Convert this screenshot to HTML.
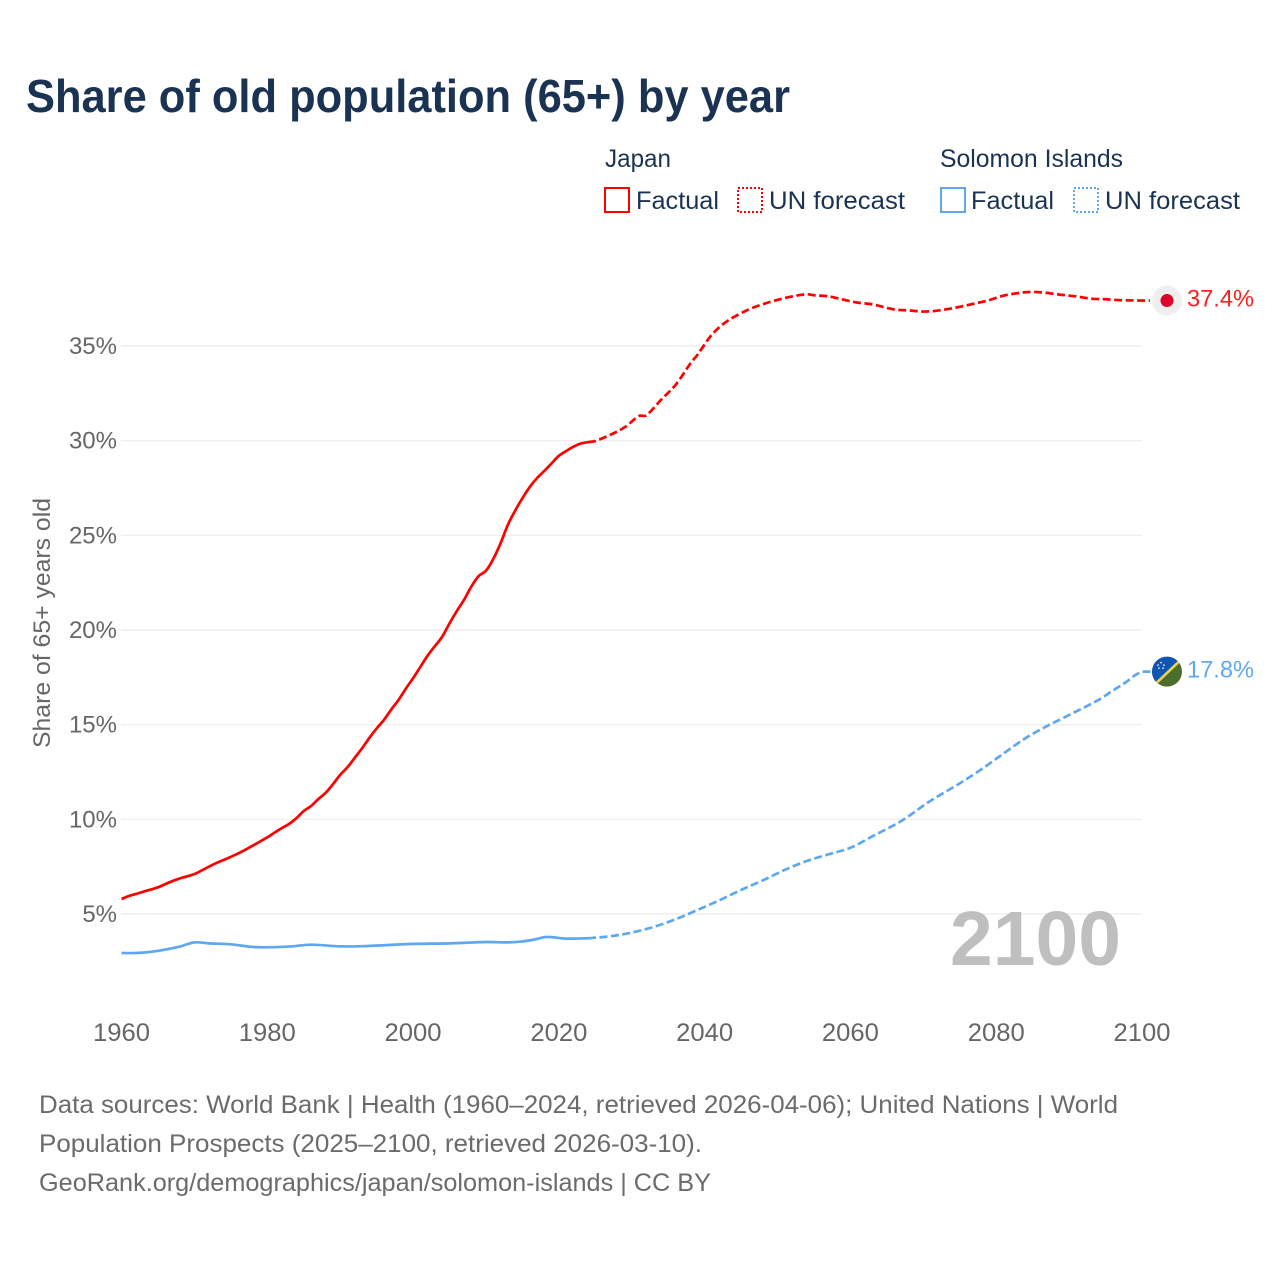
<!DOCTYPE html>
<html lang="en">
<head>
<meta charset="utf-8">
<title>Share of old population (65+) by year</title>
<style>
html,body{margin:0;padding:0;background:#fff;}
body{width:1280px;height:1280px;overflow:hidden;font-family:"Liberation Sans",sans-serif;}
svg{display:block;}
text{font-family:"Liberation Sans",sans-serif;}
</style>
</head>
<body>
<svg id="chart" width="1280" height="1280" viewBox="0 0 1280 1280" xmlns="http://www.w3.org/2000/svg">
  <defs>
    <clipPath id="flag-clip"><circle cx="0" cy="0" r="15"/></clipPath>
  </defs>
  <rect x="0" y="0" width="1280" height="1280" fill="#fff"/>
  <text x="26" y="112" font-size="46" font-weight="700" fill="#1a3353" textLength="764" lengthAdjust="spacingAndGlyphs">Share of old population (65+) by year</text>

  <g>
    <text x="605" y="167" font-size="25" fill="#1a3353" textLength="66" lengthAdjust="spacingAndGlyphs">Japan</text>
    <rect x="605" y="188" width="24" height="24" fill="none" stroke="#ff0000" stroke-width="2"/>
    <text x="636" y="209" font-size="25" fill="#1a3353" textLength="83" lengthAdjust="spacingAndGlyphs">Factual</text>
    <rect x="738" y="188" width="24" height="24" fill="none" stroke="#ff0000" stroke-width="2" stroke-dasharray="2 2"/>
    <text x="769" y="209" font-size="25" fill="#1a3353" textLength="136" lengthAdjust="spacingAndGlyphs">UN forecast</text>

    <text x="940" y="167" font-size="25" fill="#1a3353" textLength="183" lengthAdjust="spacingAndGlyphs">Solomon Islands</text>
    <rect x="941" y="188" width="24" height="24" fill="none" stroke="#5fa8ee" stroke-width="2"/>
    <text x="971" y="209" font-size="25" fill="#1a3353" textLength="83" lengthAdjust="spacingAndGlyphs">Factual</text>
    <rect x="1074" y="188" width="24" height="24" fill="none" stroke="#5fa8ee" stroke-width="2" stroke-dasharray="2 2"/>
    <text x="1105" y="209" font-size="25" fill="#1a3353" textLength="135" lengthAdjust="spacingAndGlyphs">UN forecast</text>
  </g>

  <g id="grid"></g>
  <g id="y-ticks"></g>
  <g id="x-ticks"></g>
  <text transform="translate(50,748) rotate(-90)" font-size="24" fill="#666" textLength="250" lengthAdjust="spacingAndGlyphs">Share of 65+ years old</text>
  <text x="950" y="965" font-size="77" font-weight="700" fill="#bfbfbf" textLength="171" lengthAdjust="spacingAndGlyphs">2100</text>
  <g id="series"></g>
  <g id="markers"></g>

  <g font-size="25" fill="#6b6b6b">
    <text x="39" y="1113" textLength="1079" lengthAdjust="spacingAndGlyphs">Data sources: World Bank | Health (1960–2024, retrieved 2026-04-06); United Nations | World</text>
    <text x="39" y="1152" textLength="663" lengthAdjust="spacingAndGlyphs">Population Prospects (2025–2100, retrieved 2026-03-10).</text>
    <text x="39" y="1191" textLength="672" lengthAdjust="spacingAndGlyphs">GeoRank.org/demographics/japan/solomon-islands | CC BY</text>
  </g>
</svg>
<script>
const yTicks = [5, 10, 15, 20, 25, 30, 35];
const xTicks = [1960, 1980, 2000, 2020, 2040, 2060, 2080, 2100];

const japanFactualYears = [1960,1961,1962,1963,1964,1965,1966,1967,1968,1969,1970,1971,1972,1973,1974,1975,1976,1977,1978,1979,1980,1981,1982,1983,1984,1985,1986,1987,1988,1989,1990,1991,1992,1993,1994,1995,1996,1997,1998,1999,2000,2001,2002,2003,2004,2005,2006,2007,2008,2009,2010,2011,2012,2013,2014,2015,2016,2017,2018,2019,2020,2021,2022,2023,2024];
const japanFactualValues = [5.79,5.95,6.06,6.18,6.29,6.41,6.58,6.74,6.88,6.99,7.11,7.30,7.50,7.69,7.85,8.02,8.20,8.40,8.61,8.83,9.05,9.30,9.54,9.76,10.06,10.44,10.70,11.07,11.40,11.85,12.35,12.75,13.25,13.75,14.30,14.80,15.25,15.80,16.30,16.90,17.45,18.05,18.65,19.15,19.65,20.35,21.00,21.60,22.30,22.85,23.13,23.75,24.58,25.55,26.30,26.96,27.55,28.02,28.40,28.80,29.20,29.45,29.68,29.85,29.92];

const japanForecastYears = [2024,2025,2027,2029,2031,2032,2034,2036,2038,2039,2041,2043,2046,2049,2052,2054,2055,2057,2059,2061,2063,2066,2068,2070,2072,2075,2077,2079,2081,2084,2086,2089,2091,2093,2095,2097,2100];
const japanForecastValues = [29.92,29.98,30.30,30.70,31.30,31.34,32.15,32.94,34.05,34.53,35.60,36.29,36.92,37.33,37.62,37.73,37.68,37.62,37.45,37.29,37.20,36.93,36.88,36.82,36.87,37.07,37.24,37.42,37.66,37.84,37.84,37.70,37.62,37.50,37.47,37.42,37.40];

const solomonFactualYears = [1960,1962,1964,1966,1968,1970,1972,1975,1978,1980,1983,1986,1990,1993,1997,2000,2005,2010,2013,2015,2017,2018,2019,2021,2024];
const solomonFactualValues = [2.94,2.94,3.00,3.12,3.28,3.50,3.45,3.40,3.26,3.24,3.28,3.38,3.29,3.30,3.37,3.42,3.45,3.52,3.50,3.55,3.68,3.78,3.78,3.70,3.72];

const solomonForecastYears = [2024,2027,2030,2033,2036,2039,2042,2045,2048,2051,2054,2057,2060,2063,2067,2071,2075,2078,2080,2084,2087,2090,2094,2096,2098,2099,2100];
const solomonForecastValues = [3.72,3.82,4.02,4.32,4.72,5.21,5.72,6.27,6.78,7.33,7.80,8.15,8.50,9.10,9.92,10.98,11.90,12.65,13.20,14.28,14.93,15.51,16.30,16.80,17.30,17.60,17.80];

const endValues = [37.4, 17.8];

const NS = 'http://www.w3.org/2000/svg';
function xScale(year) { return 121.5 + (year - 1960) * (1142 - 121.5) / 140; }
function yScale(v) { return 914 - (v - 5) * (914 - 346) / 30; }
function make(tag, attrs, parent) {
  const el = document.createElementNS(NS, tag);
  Object.keys(attrs).forEach(function (k) { el.setAttribute(k, attrs[k]); });
  parent.appendChild(el);
  return el;
}
const gridG = document.getElementById('grid');
const yG = document.getElementById('y-ticks');
const xG = document.getElementById('x-ticks');
const seriesG = document.getElementById('series');
const markersG = document.getElementById('markers');

yTicks.forEach(function (t) {
  const line = make('line', {x1: 121, x2: 1142, y1: yScale(t), y2: yScale(t), stroke: '#ececec', 'stroke-width': 1.2}, gridG);
  
  
  const label = make('text', {x: 117, y: yScale(t) + 8, 'text-anchor': 'end', 'font-size': 24, fill: '#666'}, yG);
  
  
  label.textContent = t + '%';
});

xTicks.forEach(function (t) {
  const label = make('text', {x: xScale(t), y: 1041, 'text-anchor': 'middle', 'font-size': 25, fill: '#666', textLength: 57, lengthAdjust: 'spacingAndGlyphs'}, xG);
  
  
  label.textContent = String(t);
});

// Smooth path through the data points (finite-difference Hermite curve).
function linePath(years, values, endX) {
  const xs = years.map(xScale);
  const ys = values.map(yScale);
  const n = xs.length;
  const slope = xs.map(function (x, i) {
    if (i === 0 || i === n - 1) { return 0; }
    return (ys[i + 1] - ys[i - 1]) / (xs[i + 1] - xs[i - 1]);
  });
  slope[0] = (ys[1] - ys[0]) / (xs[1] - xs[0]);
  slope[n - 1] = (ys[n - 1] - ys[n - 2]) / (xs[n - 1] - xs[n - 2]);
  let d = 'M' + xs[0].toFixed(2) + ' ' + ys[0].toFixed(2);
  for (let i = 1; i < n; i++) {
    const dx = (xs[i] - xs[i - 1]) / 3;
    d += ' C' + (xs[i - 1] + dx).toFixed(2) + ' ' + (ys[i - 1] + slope[i - 1] * dx).toFixed(2) +
         ' ' + (xs[i] - dx).toFixed(2) + ' ' + (ys[i] - slope[i] * dx).toFixed(2) +
         ' ' + xs[i].toFixed(2) + ' ' + ys[i].toFixed(2);
  }
  if (endX) { d += ' L' + endX + ' ' + ys[n - 1].toFixed(2); }
  return d;
}

function drawLine(years, values, color, dashed, name, endX) {
  const p = make('path', {d: linePath(years, values, endX), fill: 'none', stroke: color, 'stroke-width': 2.7, 'stroke-linejoin': 'round'}, seriesG);
  if (dashed) { p.setAttribute('stroke-dasharray', '8 3.5'); }
  
  
}

const RED = '#ff0000';
const BLUE = '#5fa8ee';
drawLine(solomonFactualYears, solomonFactualValues, BLUE, false, 'line-solomon-factual');
drawLine(solomonForecastYears, solomonForecastValues, BLUE, true, 'line-solomon-forecast', 1153);
drawLine(japanFactualYears, japanFactualValues, RED, false, 'line-japan-factual');
drawLine(japanForecastYears, japanForecastValues, RED, true, 'line-japan-forecast', 1150);

// Japan end marker
const jy = yScale(endValues[0]);
const jp = make('g', {transform: 'translate(1167,' + jy + ')'}, markersG);


make('circle', {cx: 0, cy: 0, r: 15, fill: '#efefef'}, jp);
make('circle', {cx: 0, cy: 0, r: 6.5, fill: '#e0002d'}, jp);
const jl = make('text', {x: 1187, y: jy + 6, 'font-size': 24, fill: '#ff1f1f', textLength: 67, lengthAdjust: 'spacingAndGlyphs'}, markersG);


jl.textContent = endValues[0].toFixed(1) + '%';

// Solomon Islands end marker
const sy = yScale(endValues[1]);
const sb = make('g', {transform: 'translate(1167,' + sy + ')'}, markersG);


const sc = make('g', {'clip-path': 'url(#flag-clip)'}, sb);
make('rect', {x: -15, y: -15, width: 30, height: 30, fill: '#4c6e2c'}, sc);
make('polygon', {points: '-15,-15 15,-15 15,-13 -13,15 -15,15', fill: '#0f55b4'}, sc);
make('line', {x1: -15, y1: 15.5, x2: 15, y2: -13, stroke: '#f0d050', 'stroke-width': 2.6}, sc);
[[-6, -9], [-9, -6.5], [-3, -6.5], [-8, -3.5], [-4, -3.5]].forEach(function (s) {
  make('circle', {cx: s[0], cy: s[1], r: 0.9, fill: '#dfe8f5'}, sc);
});
const sl = make('text', {x: 1187, y: sy + 6, 'font-size': 24, fill: '#5fa8ee', textLength: 67, lengthAdjust: 'spacingAndGlyphs'}, markersG);


sl.textContent = endValues[1].toFixed(1) + '%';
</script>
</body>
</html>
